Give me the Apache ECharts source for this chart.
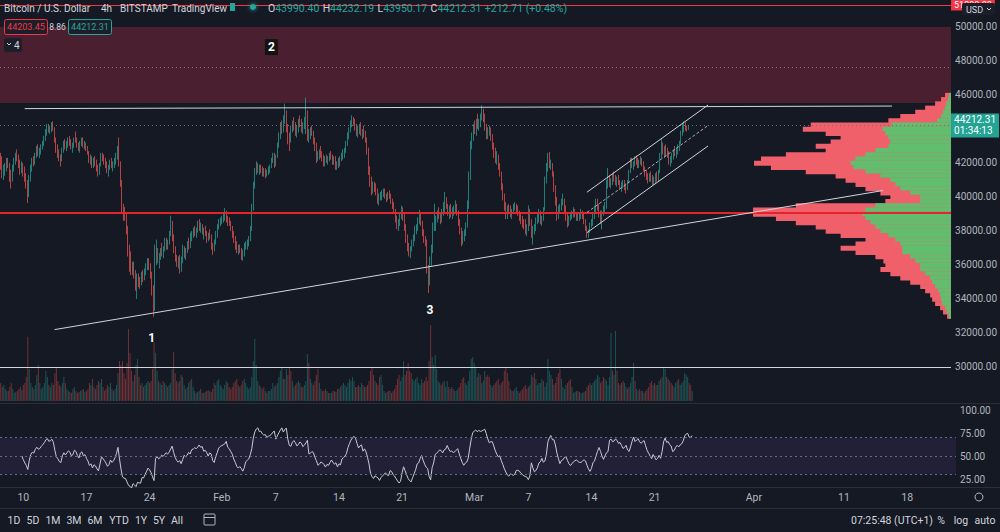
<!DOCTYPE html>
<html><head><meta charset="utf-8">
<script src="https://cdn.jsdelivr.net/npm/echarts/dist/echarts.min.js"></script>
<style>html,body{margin:0;padding:0;background:#151924;}#c{width:1000px;height:532px;}</style>
</head><body><div id="c"></div><script>
// ---------- DATA ----------
const firstCandle = '2022-01-07T12';   // first 4h candle (UTC)
const slotCount = 636;                 // 4h slots shown on the time axis (incl. empty future)
// [open, high, low, close] per 4h candle
const ohlc = [
[42200,42600,41600,41900],[41900,42400,41100,41300],[41300,41900,41000,41550],
[41550,42000,41250,41800],[41800,42300,41500,42100],[42100,42300,41700,41800],[41800,42000,40900,41200],[41200,41600,40500,41000],[41000,41900,40900,41700],
[41700,42300,41500,42100],[42100,42600,41900,42400],[42400,42800,42100,42300],[42300,42500,41700,41900],[41900,42200,41300,41600],[41600,42100,41400,41900],
[41900,42000,41200,41500],[41500,41800,40900,41100],[41100,41400,40500,40800],[40800,41000,39650,40200],[40200,41300,40000,41100],[41100,41900,40900,41800],
[41800,42300,41500,42100],[42100,42400,41800,42000],[42000,42600,41900,42500],[42500,43000,42300,42800],[42800,43100,42400,42600],[42600,42900,42300,42700],
[42700,43100,42500,43000],[43000,43300,42800,43200],[43200,43600,43000,43500],[43500,44000,43300,43900],[43900,44300,43600,44100],[44100,44300,43800,43900],
[43900,44200,43700,44000],[44000,44400,43800,44200],[44200,44450,43900,44000],[44000,44100,43200,43400],[43400,43500,42600,42800],[42800,43100,42300,42600],
[42600,42800,42100,42300],[42300,42500,41800,42200],[42200,42900,42100,42800],[42800,43300,42600,43100],[43100,43400,42800,42900],[42900,43300,42700,43100],
[43100,43500,42900,43300],[43300,43600,43000,43200],[43200,43400,42800,42900],[42900,43200,42600,43000],[43000,43500,42900,43400],[43400,43850,43200,43300],
[43300,43500,42900,43000],[43000,43200,42700,42800],[42800,43300,42600,43200],[43200,43500,43000,43300],[43300,43500,42900,43000],[43000,43300,42800,43100],
[43100,43200,42700,42800],[42800,43000,42500,42600],[42600,42700,42000,42200],[42200,42500,41900,42300],[42300,42400,41700,41900],[41900,42300,41700,42100],
[42100,42400,41800,42000],[42000,42200,41500,41700],[41700,41900,41200,41500],[41500,42000,41300,41900],[41900,42600,41800,42400],[42400,42600,42100,42300],
[42300,42500,41900,42100],[42100,42300,41700,41900],[41900,42100,41400,41600],[41600,41900,41200,41700],[41700,42200,41600,42000],[42000,42300,41700,41800],
[41800,42100,41500,41900],[41900,42300,41700,42100],[42100,42600,41900,42400],[42400,43000,42200,42900],[42900,43500,41800,42000],[42000,42100,40600,40800],
[40800,41000,39000,39300],[39300,39600,38600,39000],[39000,39400,38600,38900],[38900,39100,37800,38000],[38000,38300,36500,36800],[36800,37200,35600,36400],
[36400,36800,35400,35600],[35600,36200,35400,36000],[36000,36200,35200,35500],[35500,35700,34500,34800],[34800,35500,34000,35200],[35200,35500,34700,35000],
[35000,35300,34600,34900],[34900,35600,34800,35400],[35400,35700,35000,35300],[35300,35800,35100,35600],[35600,36100,35400,35900],[35900,36400,35700,36200],
[36200,36400,35700,35900],[35900,36100,35200,35400],[35400,35600,34200,34500],[34500,34800,32950,33500],[33500,37200,33300,36400],[36400,37500,36000,36700],
[36700,37000,36100,36300],[36300,36700,35800,36500],[36500,37000,36300,36900],[36900,37300,36500,36700],[36700,37100,36400,37000],[37000,37600,36800,37300],
[37300,37600,36900,37100],[37100,37500,36900,37400],[37400,38000,37200,37900],[37900,38900,37700,38400],[38400,38600,37400,37600],[37600,37800,36700,36900],
[36900,37100,36200,36400],[36400,36600,35900,36100],[36100,36500,35800,36300],[36300,36600,35500,35800],[35800,36500,35600,36300],[36300,37200,36100,36900],
[36900,37100,36400,36700],[36700,37000,36300,36900],[36900,37400,36700,37300],[37300,37600,36900,37100],[37100,37900,37000,37700],[37700,38000,37400,37800],
[37800,38200,37600,38000],[38000,38300,37700,37900],[37900,38200,37600,38100],[38100,38600,37900,38400],[38400,38700,38000,38200],[38200,38500,37900,38300],
[38300,38400,37800,37900],[37900,38200,37500,38000],[38000,38300,37700,37800],[37800,38000,37300,37500],[37500,37900,37400,37800],[37800,38100,37500,37700],
[37700,37800,36900,37100],[37100,37300,36600,36900],[36900,37500,36800,37400],[37400,38000,37200,37800],[37800,38400,37600,38300],[38300,38700,38100,38500],
[38500,38800,38300,38600],[38600,38900,38400,38700],[38700,39000,38500,38800],[38800,39350,38600,39100],[39100,39200,38500,38700],[38700,38900,38300,38600],
[38600,38800,38300,38400],[38400,38600,38000,38200],[38200,38300,37600,37800],[37800,38000,37300,37500],[37500,37700,36900,37100],[37100,37400,36700,36900],
[36900,37200,36600,37000],[37000,37200,36700,36800],[36800,37000,36300,36500],[36500,36900,36250,36700],[36700,37300,36500,37100],[37100,37400,36900,37200],
[37200,37500,36900,37300],[37300,37700,37100,37600],[37600,38300,37400,38100],[38100,39600,38000,39400],[39400,40900,39200,40700],[40700,41700,40500,41500],
[41500,42100,41300,41900],[41900,42000,41400,41600],[41600,41900,41300,41700],[41700,41900,41400,41500],[41500,41800,41200,41400],[41400,41700,41200,41500],
[41500,41700,41100,41300],[41300,41600,41200,41500],[41500,41800,41300,41600],[41600,41900,41400,41800],[41800,42300,41700,42200],[42200,42600,42000,42400],
[42400,42600,41700,41900],[41900,42500,41800,42400],[42400,43200,42300,43000],[43000,43800,42900,43600],[43600,44400,43400,44200],[44200,44500,43700,43900],
[43900,44800,43800,44600],[44600,45500,44300,44900],[44900,45100,43800,44000],[44000,44300,43100,43400],[43400,43800,42700,43300],[43300,44200,43200,44000],
[44000,44500,43800,44300],[44300,44700,43900,44100],[44100,44400,43600,43800],[43800,44200,43500,44000],[44000,44600,43800,44400],[44400,44800,44100,44300],
[44300,44600,43800,44000],[44000,44400,43700,44200],[44200,44700,44000,44500],[44500,45850,43700,44900],[44900,45100,43300,43600],[43600,44000,43200,43700],
[43700,44100,43400,43900],[43900,44200,43600,43800],[43800,43900,43100,43300],[43300,43500,42700,42900],[42900,43200,42000,42300],[42300,42700,42100,42400],
[42400,42800,42200,42600],[42600,43000,42300,42500],[42500,42700,42100,42300],[42300,42500,41800,42000],[42000,42400,41800,42200],[42200,42500,42000,42100],
[42100,42400,41900,42300],[42300,42600,42100,42500],[42500,42700,42200,42300],[42300,42500,41900,42100],[42100,42400,41900,42200],[42200,42400,41600,41800],
[41800,42100,41600,42000],[42000,42300,41700,41900],[41900,42400,41800,42300],[42300,42600,42100,42400],[42400,42800,42200,42500],[42500,42900,42300,42700],
[42700,43300,42600,43200],[43200,43800,43000,43600],[43600,44100,43400,44000],[44000,44500,43800,44300],[44300,44800,44100,44500],[44500,44700,44200,44400],
[44400,44600,43900,44100],[44100,44300,43600,43800],[43800,44200,43500,44000],[44000,44300,43700,44100],[44100,44400,43600,43700],[43700,44000,43400,43900],
[43900,44200,43500,43700],[43700,43900,43200,43300],[43300,43500,42500,42700],[42700,42900,41300,41500],[41500,41800,40600,40900],[40900,41200,40100,40500],
[40500,40900,40200,40700],[40700,40900,40300,40500],[40500,40800,40100,40300],[40300,40500,39600,39800],[39800,40200,39500,40000],[40000,40300,39800,40100],
[40100,40400,39800,40200],[40200,40500,40000,40300],[40300,40500,39900,40000],[40000,40200,39700,39900],[39900,40300,39800,40200],[40200,40400,39900,40100],
[40100,40200,39600,39700],[39700,39900,39300,39500],[39500,39700,39000,39100],[39100,39300,38500,38700],[38700,38900,38100,38300],[38300,38700,38000,38400],
[38400,39000,38300,38900],[38900,39500,38700,39300],[39300,39400,38600,38800],[38800,39100,38000,38200],[38200,38400,37300,37500],[37500,37800,36800,37000],
[37000,37300,36500,36700],[36700,37100,36400,37000],[37000,37500,36800,37300],[37300,37800,37100,37600],[37600,38300,37400,38100],[38100,38400,37800,38200],
[38200,38800,38000,38600],[38600,39250,38400,38900],[38900,39000,38300,38400],[38400,38600,37700,37900],[37900,38100,37300,37500],[37500,37700,37100,37300],
[37300,37500,35500,35800],[35800,36000,34350,35000],[35000,36500,34800,36300],[36300,37200,35900,36900],[36900,38500,36700,38200],[38200,39600,38000,38400],
[38400,38900,38000,38700],[38700,39200,38500,39000],[39000,39400,38700,38900],[38900,39100,38400,38600],[38600,39300,38500,39100],[39100,39700,38900,39200],
[39200,40300,39100,39800],[39800,40000,39300,39400],[39400,39600,38900,39100],[39100,39500,38700,39200],[39200,39600,38800,39000],[39000,39400,38700,39100],
[39100,39500,38900,39300],[39300,39800,39100,39500],[39500,39600,38900,39000],[39000,39200,38300,38500],[38500,38700,37800,38000],[38000,38200,37100,37600],
[37600,38000,37200,37800],[37800,38100,37400,37900],[37900,38500,37700,38300],[38300,39800,38200,39500],[39500,41500,39300,41200],[41200,43300,41000,43100],
[43100,43800,42800,43600],[43600,44300,43300,44100],[44100,44500,43700,43900],[43900,44600,43600,44400],[44400,44900,44000,44300],[44300,44600,43900,44400],
[44400,44900,44100,44700],[44700,45400,44500,45000],[45000,45200,44400,44600],[44600,44900,43900,44100],[44100,44300,43400,43700],[43700,44100,43400,43900],
[43900,44200,43600,43900],[43900,44100,43300,43500],[43500,43700,42800,43000],[43000,43200,42300,42600],[42600,42900,42000,42300],[42300,42700,41900,42400],
[42400,42500,41600,41800],[41800,42000,41200,41300],[41300,41500,40400,40600],[40600,40800,39800,40000],[40000,40200,39200,39400],[39400,39700,38700,39100],
[39100,39500,38700,39300],[39300,39600,39000,39200],[39200,39500,38800,39000],[39000,39300,38700,39100],[39100,39600,39000,39400],[39400,39700,39200,39400],
[39400,39600,39100,39300],[39300,39500,38900,39000],[39000,39200,38600,38800],[38800,39000,38400,38600],[38600,38900,38200,38500],[38500,38700,38100,38400],
[38400,38700,37800,38000],[38000,38400,37700,38200],[38200,39500,38000,39100],[39100,39300,38300,38500],[38500,38700,37600,37900],[37900,38300,37200,38000],
[38000,38400,37800,38200],[38200,38800,38000,38600],[38600,39000,38400,38700],[38700,39300,38500,39000],[39000,39200,38400,38600],[38600,38900,38300,38700],
[38700,39400,38600,39300],[39300,41200,39200,41000],[41000,42000,40800,41800],[41800,42600,41500,42300],[42300,42650,41700,41900],[41900,42200,41600,41900],
[41900,42000,41200,41400],[41400,41500,40300,40500],[40500,40700,39500,39700],[39700,40000,38600,38900],[38900,39500,38700,39300],[39300,39600,39100,39400],
[39400,39900,39200,39700],[39700,40200,39500,39800],[39800,39900,39100,39300],[39300,39500,38600,38800],[38800,39000,38200,38500],[38500,38900,38300,38700],
[38700,39000,38600,38900],[38900,39200,38700,39000],[39000,39400,38800,39100],[39100,39300,38800,38900],[38900,39100,38600,38800],[38800,39000,38600,38800],
[38800,39100,38600,38900],[38900,39300,38700,39000],[39000,39200,38700,38900],[38900,39000,38400,38500],[38500,38700,38000,38100],[38100,38300,37600,37800],
[37800,38100,37600,38000],[38000,38500,37900,38400],[38400,38700,38200,38500],[38500,39000,38300,38900],[38900,39500,38700,39300],[39300,39900,39100,39700],
[39700,39900,39200,39400],[39400,39600,38800,39000],[39000,39200,38400,38700],[38700,39200,38100,39000],[39000,39500,38900,39300],[39300,39700,39100,39400],
[39400,41000,39300,40800],[40800,41700,40500,41000],[41000,41300,40600,40800],[40800,41100,40500,40900],[40900,41400,40700,41200],[41200,41500,40900,41100],
[41100,41300,40700,40900],[40900,41200,40600,41000],[41000,41300,40700,40800],[40800,41000,40400,40600],[40600,40900,40300,40700],[40700,41000,40500,40900],
[40900,41000,40400,40600],[40600,40800,40200,40500],[40500,41000,40400,40900],[40900,41600,40800,41500],[41500,42300,41400,42100],[42100,42300,41700,41800],
[41800,42100,41600,42000],[42000,42400,41800,42200],[42200,42450,41900,42000],[42000,42300,41700,41900],[41900,42200,41700,42100],[42100,42400,41900,42200],
[42200,42300,41800,41900],[41900,42100,41500,41600],[41600,41800,41200,41400],[41400,41600,41000,41200],[41200,41400,40800,41000],[41000,41400,40900,41300],
[41300,41500,40900,41100],[41100,41300,40700,40900],[40900,41200,40700,41000],[41000,41400,40800,41200],[41200,41500,40900,41000],[41000,41600,40900,41500],
[41500,42600,41400,42500],[42500,43450,42300,43000],[43000,43200,42500,42700],[42700,43000,42300,42800],[42800,43100,42400,42600],[42600,42900,42300,42500],
[42500,42700,41900,42100],[42100,42400,41800,42200],[42200,42600,42000,42500],[42500,42800,42200,42700],[42700,43000,42400,42600],[42600,42900,42300,42800],
[42800,43100,42500,42900],[42900,43300,42700,43200],[43200,43900,43100,43800],[43800,44300,43600,44100],[44100,44450,43800,44200],[44200,44400,43900,44000],
[44000,44200,43850,43990],[43990,44232.19,43950.17,44212.31]
];
// volume per candle (BTC)
const volumes = [
900,700,800,
600,500,500,700,900,600, 400,450,500,600,700,550, 800,900,1200,3200,1600,900, 700,600,800,1300,1800,900,
600,700,900,1500,1200,800, 700,900,800,1400,1700,1000, 800,700,900,1200,900,600, 500,450,400,600,700,500,
400,450,500,550,600,450, 500,600,900,800,1100,700, 600,800,1000,900,1100,700, 500,600,800,700,900,600,
500,600,800,1400,2000,1800, 2000,1400,1100,1900,3600,2400, 1500,1000,1300,1800,2100,1200, 800,900,700,800,900,1000,
900,1000,1600,2950,2400,1500, 1000,900,800,1000,900,800, 700,800,900,1600,2450,1400, 1000,900,1000,1300,1200,800,
600,700,900,1000,1100,700, 500,400,450,500,600,400, 400,450,500,550,500,450, 600,900,800,1000,1100,800,
700,600,800,1000,900,700, 600,700,900,1000,1100,800, 700,800,1000,1100,900,700, 600,700,1200,2000,3100,1800,
1000,800,700,600,700,500, 400,500,500,600,900,700, 800,900,1200,1500,1700,1100, 1100,1600,1300,1700,1500,1000,
700,800,900,1000,900,700, 700,800,1000,2350,1900,1100, 900,800,1000,1300,1600,900, 600,500,500,600,500,400,
400,400,500,500,450,600, 600,700,800,900,800,700, 900,1100,1000,1200,1000,700, 700,800,700,900,800,700,
700,800,1000,1500,1700,1300, 1000,900,800,1200,1300,800, 500,400,450,500,500,400, 500,600,800,1100,1300,1000,
1200,2000,1300,1500,1900,1500, 1400,1100,1000,1100,1200,900, 800,1100,900,1000,1200,1000, 2000,3800,2200,1800,2300,1600,
1000,900,800,900,1000,700, 1000,700,600,700,600,500, 500,600,700,900,1100,1200, 900,800,1000,1500,2100,2200,
1900,1700,1200,1400,1300,900, 1000,1500,1200,1300,1200,800, 700,800,900,1000,1100,800, 900,1000,1500,1700,1400,1000,
600,500,500,600,700,500, 400,500,600,700,800,600, 700,800,1300,1200,1400,1100, 800,900,900,1100,1000,700,
900,2100,1500,1300,1100,800, 900,1200,1400,1600,1100,700, 600,800,900,1000,1100,700, 400,450,500,500,450,400,
400,450,500,700,800,900, 800,900,1000,1100,1300,1200, 900,1000,1200,1100,1000,800, 1200,3400,1500,1300,3500,1500,
900,800,900,1000,900,700, 600,700,900,1200,1900,1000, 600,500,600,500,500,400, 500,600,700,900,1000,800,
900,800,800,1000,1100,1200, 1700,1600,1200,1100,1000,900, 800,700,900,1000,1100,800, 900,1000,1400,1300,1200,900,
800,500
];
// visible-range volume profile (row centre price, total volume, up volume)
const profileStep = 250;
const profilePrices = [46000,45750,45500,45250,45000,44750,44500,44250,44000,43750,43500,43250,43000,42750,42500,42250,42000,41750,41500,41250,41000,40750,40500,40250,40000,39750,39500,39250,39000,38750,38500,38250,38000,37750,37500,37250,37000,36750,36500,36250,36000,35750,35500,35250,35000,34750,34500,34250,34000,33750,33500,33250,33000];
const profileTotal = [0.6,1.0,1.6,2.6,3.6,5.1,6.3,14.1,14.9,12.6,11.1,12.1,13.6,12.6,16.6,19.1,19.8,18.1,14.6,11.6,10.6,9.6,8.6,7.1,6.1,6.6,15.6,19.9,19.9,17.6,15.6,13.6,12.6,11.1,8.6,9.6,11.1,9.6,7.6,6.8,6.6,7.1,6.1,5.1,4.1,3.1,2.6,2.1,1.9,1.6,1.1,0.8,0.4];
const profileUp =    [0.2,0.3,0.5,0.6,0.8,1.0,1.4,6.0,6.9,6.6,6.3,6.1,6.3,7.6,8.6,9.6,10.1,9.8,8.6,7.1,6.1,5.6,5.1,4.1,3.1,3.1,7.6,8.6,8.9,8.6,8.1,7.6,7.1,6.3,5.6,5.1,4.9,4.9,4.1,3.6,3.1,3.1,2.6,2.1,1.9,1.6,1.3,1.1,1.0,0.9,0.6,0.4,0.2];
// time-axis tick labels
const tickDates  = ['2022-01-10T00','2022-01-17T00','2022-01-24T00','2022-02-01T00','2022-02-07T00','2022-02-14T00','2022-02-21T00','2022-03-01T00','2022-03-07T00','2022-03-14T00','2022-03-21T00','2022-04-01T00','2022-04-11T00','2022-04-18T00'];
const tickLabels = ['10','17','24','Feb','7','14','21','Mar','7','14','21','Apr','11','18'];
// drawings
const resistanceLine = [['2022-01-10T04',45200],['2022-04-16T20',45350]];
const supportLine    = [['2022-01-13T12',32200],['2022-04-15T20',40380]];
const channelUpper   = [['2022-03-13T20',40280],['2022-03-27T08',45410]];
const channelMid     = [['2022-03-13T20',39090],['2022-03-27T08',44205]];
const channelLower   = [['2022-03-13T20',37900],['2022-03-27T08',43000]];
const redLevel = 39060, whiteLevel = 30000;
const zoneLow = 45530, zoneHigh = 50000, zoneMid = 47650;
const lastPrice = 44212.31, topAlert = 51290;
const pointLabels = [['1','2022-01-24T08',31700],['3','2022-02-24T08',33350]];
const zoneLabel = ['2','2022-02-06T16',48820];
const priceMin = 28000, priceMax = 51588, priceStep = 2000;

// ---------- BUILD ----------
const cats = [];
const t0 = Date.parse(firstCandle + ':00:00Z');
for (let i = 0; i < slotCount; i++) cats.push(new Date(t0 + i * 4 * 3600e3).toISOString().slice(0, 13));
const tickMap = new Map(tickDates.map((d, i) => [d, tickLabels[i]]));
const candleData = ohlc.map(r => [r[0], r[3], r[2], r[1]]);
const closes = ohlc.map(r => r[3]);
const volData = volumes.map((v, i) => ({value: v, itemStyle: {color: ohlc[i][3] >= ohlc[i][0] ? 'rgba(38,166,154,0.42)' : 'rgba(239,83,80,0.42)'}}));
function rsi(c, n) {
  const out = new Array(c.length).fill(null); let g = 0, l = 0;
  for (let i = 1; i < c.length; i++) {
    const d = c[i] - c[i - 1], up = Math.max(d, 0), dn = Math.max(-d, 0);
    if (i <= n) { g += up; l += dn; if (i === n) { g /= n; l /= n; out[i] = 100 - 100 / (1 + g / l); } }
    else { g = (g * (n - 1) + up) / n; l = (l * (n - 1) + dn) / n; out[i] = l === 0 ? 100 : 100 - 100 / (1 + g / l); }
  }
  return out;
}
const rsiData = rsi(closes, 14);
const profileData = profilePrices.map((p, i) => [p, profileTotal[i], profileUp[i]]);
const seg = (pts, style) => [{coord: pts[0], lineStyle: style}, {coord: pts[1]}];
const FONT = 'Roboto, "Noto Sans", sans-serif';
const gray = '#b2b5be';
const txt = (s, x, y, fill, size, extra) => ({type: 'text', x: x, y: y, z: 100, silent: true,
  style: Object.assign({text: s, fill: fill, fontSize: size, fontFamily: FONT, verticalAlign: 'middle'}, extra || {})});

const hidden = {show: false};
const catAxis = (gi, extra) => Object.assign({type: 'category', gridIndex: gi, data: cats, boundaryGap: true,
  axisLine: hidden, axisTick: hidden, axisLabel: hidden, splitLine: hidden}, extra || {});

const chart = echarts.init(document.getElementById('c'), null, {renderer: 'svg', width: 1000, height: 532});
chart.setOption({
  animation: false,
  backgroundColor: '#151924',
  textStyle: {fontFamily: FONT},
  grid: [
    {left: 0, right: 44, top: 0, height: 401},
    {left: 0, right: 44, top: 301, height: 100},
    {left: 0, right: 44, top: 410, height: 92},
    {left: 0, right: 44, top: 480, height: 7}
  ],
  xAxis: [
    catAxis(0),
    {type: 'value', gridIndex: 0, min: 0, max: 95.6, inverse: true, show: false},
    catAxis(1),
    catAxis(2),
    catAxis(3, {axisLabel: {show: true, color: gray, fontSize: 10.5, margin: 5,
      interval: (i, v) => tickMap.has(v), formatter: v => tickMap.get(v) || ''}})
  ],
  yAxis: [
    {type: 'value', gridIndex: 0, position: 'right', min: priceMin, max: priceMax, interval: priceStep,
     axisLine: hidden, axisTick: hidden, splitLine: hidden,
     axisLabel: {color: gray, fontSize: 10, margin: 4, showMaxLabel: false,
       formatter: v => (v <= 28000 || v > 50000 || v === 44000) ? '' : v.toFixed(2)}},
    {type: 'value', gridIndex: 1, min: 0, max: 5000, show: false},
    {type: 'value', gridIndex: 2, position: 'right', min: 0, max: 100, interval: 25,
     axisLine: hidden, axisTick: hidden, splitLine: hidden,
     axisLabel: {color: gray, fontSize: 10, margin: 4, formatter: v => v === 0 ? '' : v.toFixed(2)}},
    {type: 'value', gridIndex: 3, show: false}
  ],
  series: [
    {
      type: 'custom', name: 'profile', xAxisIndex: 1, yAxisIndex: 0, z: 1,
      data: profileData, encode: {x: [1, 2], y: 0}, silent: true,
      renderItem: (params, api) => {
        const p = api.value(0), h = profileStep / 2;
        const a = api.coord([0, p + h]);
        const b = api.coord([api.value(1), p - h]);
        const g = api.coord([api.value(2), p - h]);
        return {type: 'group', children: [
          {type: 'rect', shape: {x: b[0], y: a[1], width: a[0] - b[0], height: b[1] - a[1] + 0.6}, style: {fill: '#f0606b'}},
          {type: 'rect', shape: {x: g[0], y: a[1], width: a[0] - g[0], height: g[1] - a[1] + 0.6}, style: {fill: '#62bd6e'}}
        ]};
      }
    },
    {
      type: 'candlestick', name: 'BTCUSD', xAxisIndex: 0, yAxisIndex: 0, z: 3,
      data: candleData, barWidth: 1,
      itemStyle: {color: '#26a69a', color0: '#ef5350', borderColor: '#26a69a', borderColor0: '#ef5350', borderWidth: 1, opacity: 0.72},
      markArea: {silent: true, itemStyle: {color: '#4a2030', opacity: 1},
        data: [[{yAxis: zoneLow}, {yAxis: zoneHigh}]]},
      markLine: {silent: true, symbol: 'none', animation: false,
        label: {show: false},
        data: [
          {yAxis: redLevel, lineStyle: {color: '#e3242b', width: 2, type: 'solid', opacity: 1}},
          {yAxis: whiteLevel, lineStyle: {color: '#d1d4dc', width: 1, type: 'solid', opacity: 1}},
          {yAxis: zoneMid, lineStyle: {color: '#8c6f78', width: 1, type: [1, 3], opacity: 1}},
          {yAxis: topAlert, lineStyle: {color: '#f23645', width: 1, type: 'solid', opacity: 1},
           label: {show: true, position: 'end', distance: 0, formatter: () => topAlert.toFixed(2), color: '#fff',
             backgroundColor: '#f23645', fontSize: 9, padding: [1, 3]}},
          {yAxis: lastPrice, lineStyle: {color: '#6d7080', width: 1, type: [1, 3], opacity: 1},
           label: {show: true, position: 'end', distance: 0, formatter: '44212.31\n01:34:13', color: '#fff',
             backgroundColor: '#22a394', fontSize: 10, lineHeight: 11, padding: [1, 3, 1, 3]}},
          seg(resistanceLine, {color: '#d1d4dc', width: 1, type: 'solid', opacity: 1}),
          seg(supportLine, {color: '#d1d4dc', width: 1, type: 'solid', opacity: 1}),
          seg(channelUpper, {color: '#d1d4dc', width: 1, type: 'solid', opacity: 1}),
          seg(channelLower, {color: '#d1d4dc', width: 1, type: 'solid', opacity: 1}),
          seg(channelMid, {color: '#a9acb6', width: 1, type: [3, 2], opacity: 1})
        ]},
      markPoint: {silent: true, symbol: 'rect', animation: false,
        data: [
          ...pointLabels.map(d => ({coord: [d[1], d[2]], symbolSize: [0, 0],
            label: {show: true, formatter: d[0], color: '#ffffff', fontWeight: 'bold', fontSize: 12}})),
          {coord: [zoneLabel[1], zoneLabel[2]], symbolSize: [13, 16], itemStyle: {color: '#141414', opacity: 1},
           label: {show: true, formatter: zoneLabel[0], color: '#ffffff', fontWeight: 'bold', fontSize: 12}}
        ]}
    },
    {
      type: 'bar', name: 'Volume', xAxisIndex: 2, yAxisIndex: 1, data: volData, barWidth: 1, silent: true, z: 2
    },
    {
      type: 'line', name: 'RSI', xAxisIndex: 3, yAxisIndex: 2, data: rsiData, showSymbol: false, silent: true,
      lineStyle: {color: '#c9cad3', width: 1},
      markArea: {silent: true, itemStyle: {color: 'rgba(126,87,194,0.12)'}, data: [[{yAxis: 30}, {yAxis: 70}]]},
      markLine: {silent: true, symbol: 'none', label: {show: false},
        lineStyle: {color: '#6a6d78', width: 1, type: [2, 3]},
        data: [{yAxis: 70}, {yAxis: 50}, {yAxis: 30}]}
    }
  ],
  graphic: [
    {type: 'line', shape: {x1: 0, y1: 403.5, x2: 1000, y2: 403.5}, style: {stroke: '#2a2e39', lineWidth: 1}, silent: true},
    {type: 'line', shape: {x1: 0, y1: 487.5, x2: 1000, y2: 487.5}, style: {stroke: '#2a2e39', lineWidth: 1}, silent: true},
    {type: 'line', shape: {x1: 0, y1: 508.5, x2: 1000, y2: 508.5}, style: {stroke: '#2a2e39', lineWidth: 1}, silent: true},
    txt('Bitcoin / U.S. Dollar', 4, 8, '#d1d4dc', 10),
    txt('4h', 101, 8, '#d1d4dc', 10),
    txt('BITSTAMP', 120, 8, '#d1d4dc', 10),
    txt('TradingView', 172, 8, '#d1d4dc', 10),
    {type: 'rect', z: 100, shape: {x: 230, y: 3, width: 5, height: 8}, style: {fill: '#26a69a'}},
    {type: 'circle', z: 100, shape: {cx: 253, cy: 7, r: 3}, style: {fill: '#26a69a', shadowBlur: 4, shadowColor: '#26a69a'}},
    {type: 'text', x: 268, y: 8, z: 100, silent: true, style: {verticalAlign: 'middle',
      rich: {l: {fill: '#d1d4dc', fontSize: 10.5, fontFamily: FONT}, v: {fill: '#26a69a', fontSize: 10.5, fontFamily: FONT}},
      text: '{l|O}{v|43990.40} {l|H}{v|44232.19} {l|L}{v|43950.17} {l|C}{v|44212.31} {v|+212.71 (+0.48%)}'}},
    {type: 'rect', z: 100, shape: {x: 4.5, y: 19.5, width: 43, height: 15, r: 2}, style: {fill: '#1c1f2a', stroke: '#f23645', lineWidth: 1}},
    txt('44203.45', 26, 27, '#f23645', 9, {align: 'center'}),
    txt('8.86', 57.5, 27, '#d1d4dc', 8.5, {align: 'center'}),
    {type: 'rect', z: 100, shape: {x: 68.5, y: 19.5, width: 43, height: 15, r: 2}, style: {fill: '#1c1f2a', stroke: '#26a69a', lineWidth: 1}},
    txt('44212.31', 90, 27, '#26a69a', 9, {align: 'center'}),
    {type: 'rect', z: 100, shape: {x: 4, y: 38, width: 18, height: 14, r: 2}, style: {fill: '#1c1f2a'}},
    {type: 'polyline', z: 100, shape: {points: [[7, 43], [9, 45], [11, 43]]}, style: {stroke: '#d1d4dc', lineWidth: 1, fill: null}},
    txt('4', 14, 45, '#d1d4dc', 10),
    {type: 'rect', z: 100, shape: {x: 962, y: 3, width: 33, height: 12, r: 2}, style: {fill: '#1c1f2a'}},
    txt('USD', 966, 9.5, '#d1d4dc', 9),
    {type: 'polyline', z: 100, shape: {points: [[987, 8], [989, 10], [991, 8]]}, style: {stroke: '#d1d4dc', lineWidth: 1, fill: null}},
    ...[['1D',14],['5D',33],['1M',53],['3M',74],['6M',95],['YTD',119],['1Y',141],['5Y',159],['All',177]].map(d =>
      txt(d[0], d[1], 520, '#d1d4dc', 10.5, {align: 'center'})),
    {type: 'rect', shape: {x: 204, y: 514, width: 11, height: 11, r: 1}, style: {fill: null, stroke: '#b2b5be', lineWidth: 1}},
    {type: 'line', shape: {x1: 204, y1: 517.5, x2: 215, y2: 517.5}, style: {stroke: '#b2b5be', lineWidth: 1}},
    txt('07:25:48 (UTC+1)', 892, 520, '#d1d4dc', 10.5, {align: 'center'}),
    txt('%', 941, 520, '#d1d4dc', 10.5, {align: 'center'}),
    txt('log', 961, 520, '#d1d4dc', 10.5, {align: 'center'}),
    txt('auto', 985, 520, '#d1d4dc', 10.5, {align: 'center'}),
    {type: 'circle', shape: {cx: 979, cy: 497, r: 4}, style: {fill: null, stroke: '#b2b5be', lineWidth: 1}}
  ]
});
</script></body></html>
